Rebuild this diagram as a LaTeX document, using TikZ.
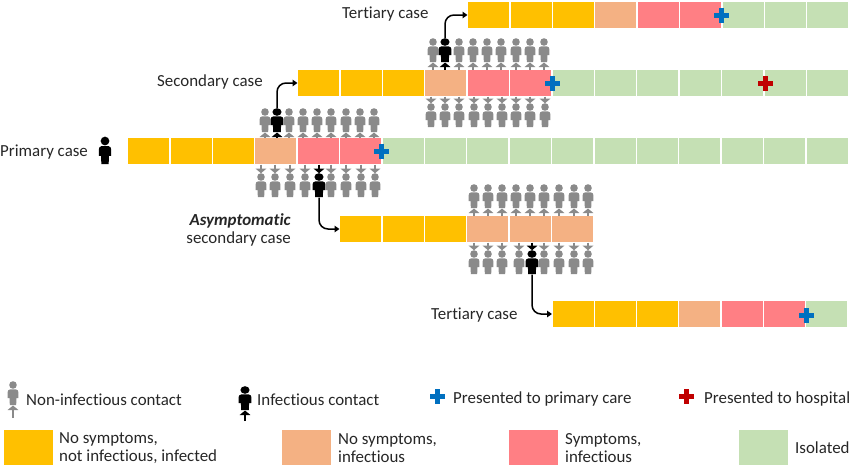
\documentclass[tikz,border=0pt]{standalone}
\usepackage{fontspec}
\setmainfont{Carlito}[Ligatures=NoCommon]
\usetikzlibrary{arrows.meta}
\definecolor{yellowc}{HTML}{FFC000}
\definecolor{peachc}{HTML}{F4B183}
\definecolor{redc}{HTML}{FF7F84}
\definecolor{greenc}{HTML}{C5E0B4}
\definecolor{bluex}{HTML}{0070C0}
\definecolor{redx}{HTML}{C00000}
\definecolor{greyc}{HTML}{8A8A8A}
\definecolor{textc}{HTML}{262626}
\tikzset{
  man/.pic={
    \fill (0,0) circle (3.8);
    \fill (-3,4.4) -- (3,4.4) to[out=0,in=90] (5.4,7.5) -- (5.4,13) -- (3.4,13) -- (3.2,20) -- (-3.2,20) -- (-3.4,13) -- (-5.4,13) -- (-5.4,7.5) to[out=90,in=180] cycle;
    \coordinate (-top) at (0,-3.8);
    \coordinate (-foot) at (0,20.5);
  },
  plus/.pic={
    \fill (-7.5,-2.5) rectangle (7.5,2.5);
    \fill (-2.5,-7.5) rectangle (2.5,7.5);
  }
}
\begin{document}
\begin{tikzpicture}[x=1pt,y=-1pt]
     \tikzstyle{casecell}=[draw=white, line width=1.2pt, outer sep=0pt, minimum width=42.35pt, minimum height=27pt, inner sep=0pt, anchor=west]
     \tikzstyle{legendbox}=[minimum width=49pt, minimum height=35pt, inner sep=0pt, anchor=west]
     \tikzstyle{label}=[font=\fontsize{16.9}{18}\selectfont, text=textc, inner sep=0pt, align=left]
     \tikzstyle{hit}=[line width=1.5pt, -{Triangle[width=10.5pt,length=4.5pt]}]
     \tikzstyle{onward}=[line width=1.5pt, rounded corners=9pt, -{Triangle[width=6.5pt,length=5pt]}]
     \tikzstyle{quiet}=[color=greyc]
     \tikzstyle{sick}=[color=black, xscale=1.2]
     \useasboundingbox (0,0) rectangle (850,466);
     % bars
     \foreach \col [count=\i] in {yellowc,yellowc,yellowc,peachc,redc,redc,greenc,greenc,greenc,greenc,greenc,greenc,greenc,greenc,greenc,greenc,greenc}
       \node[casecell,fill=\col] (p\i) at (127.5+42.4*\i-42.4,151) {};
     \foreach \col [count=\i] in {yellowc,yellowc,yellowc,peachc,redc,redc,greenc,greenc,greenc,greenc,greenc,greenc,greenc}
       \node[casecell,fill=\col] (s\i) at (297.5+42.4*\i-42.4,83) {};
     \foreach \col [count=\i] in {yellowc,yellowc,yellowc,peachc,redc,redc,greenc,greenc,greenc}
       \node[casecell,fill=\col] (t\i) at (467.5+42.4*\i-42.4,15) {};
     \foreach \col [count=\i] in {yellowc,yellowc,yellowc,peachc,peachc,peachc}
       \node[casecell,fill=\col] (a\i) at (339.5+42.4*\i-42.4,229) {};
     \foreach \col [count=\i] in {yellowc,yellowc,yellowc,peachc,redc,redc,greenc}
       \node[casecell,fill=\col] (b\i) at (552+42.25*\i-42.25,314) {};
     % contacts of the primary case
     \foreach \x/\c/\kind [count=\i] in {265/4/quiet,277/4/sick,289/4/quiet,303/5/quiet,317/5/quiet,331/5/quiet,346/6/quiet,360/6/quiet,374/6/quiet}{
       \pic[\kind] (pu\i) at (\x,112) {man};
       \draw[hit,\kind] (p\c.north -| pu\i-foot) -- (pu\i-foot);
     }
     \foreach \x/\c/\kind [count=\i] in {261/4/quiet,275/4/quiet,290/4/quiet,305/5/quiet,319/5/sick,331/5/quiet,346/6/quiet,361/6/quiet,375/6/quiet}{
       \pic[\kind] (pd\i) at (\x,177) {man};
       \draw[hit,\kind] (p\c.south -| pd\i-top) -- (pd\i-top);
     }
     % contacts of the secondary case
     \foreach \x/\c/\kind [count=\i] in {433/4/quiet,445/4/sick,459/4/quiet,473/5/quiet,487/5/quiet,501/5/quiet,516/6/quiet,530/6/quiet,544/6/quiet}{
       \pic[\kind] (su\i) at (\x,42) {man};
       \draw[hit,\kind] (s\c.north -| su\i-foot) -- (su\i-foot);
     }
     \foreach \x/\c/\kind [count=\i] in {431/4/quiet,445/4/quiet,459/4/quiet,474/5/quiet,488/5/quiet,502/5/quiet,516/6/quiet,530/6/quiet,545/6/quiet}{
       \pic[\kind] (sd\i) at (\x,107) {man};
       \draw[hit,\kind] (s\c.south -| sd\i-top) -- (sd\i-top);
     }
     % contacts of the asymptomatic case
     \foreach \x/\c/\kind [count=\i] in {474/4/quiet,488/4/quiet,502/4/quiet,516/5/quiet,530/5/quiet,544/5/quiet,559/6/quiet,574/6/quiet,588/6/quiet}{
       \pic[\kind] (au\i) at (\x,188) {man};
       \draw[hit,\kind] (a\c.north -| au\i-foot) -- (au\i-foot);
     }
     \foreach \x/\c/\kind [count=\i] in {474/4/quiet,488/4/quiet,502/4/quiet,519/5/quiet,532/5/sick,544/5/quiet,559/6/quiet,574/6/quiet,588/6/quiet}{
       \pic[\kind] (ad\i) at (\x,254) {man};
       \draw[hit,\kind] (a\c.south -| ad\i-top) -- (ad\i-top);
     }
     % onward transmission
     \draw[onward] (pu2-top) |- (s1.west);
     \draw[onward] (su2-top) |- (t1.west);
     \draw[onward] (pd5-foot) |- (a1.west);
     \draw[onward] (ad5-foot) |- (b1.west);
     % crosses
     \pic[color=bluex] at (381,151) {plus};
     \pic[color=bluex] at (552,83) {plus};
     \pic[color=bluex] at (721,15) {plus};
     \pic[color=bluex] at (806,315) {plus};
     \pic[color=redx] at (765,83) {plus};
     % case labels
     \node[label,anchor=west] (tertA) at (342,14) {Tertiary case};
     \node[label,anchor=west] (secA) at (157,82) {Secondary case};
     \node[label,anchor=west] (prim) at (0,152) {Primary case};
     \pic[color=black,scale=1.15] at (105,141) {man};
     \node[label,anchor=east,align=right] (asym) at (291,229.7) {\textbf{\textit{Asymptomatic}}\\secondary case};
     \node[label,anchor=west] (tertB) at (431,315) {Tertiary case};
     % legend
     \pic[quiet] (lega) at (13,385) {man};
     \coordinate (legaend) at (13,418);
     \draw[hit,quiet] (legaend) -- (lega-foot);
     \node[label,anchor=west] (legatext) at (26,400) {Non-infectious contact};
     \pic[sick] (legb) at (245,390) {man};
     \coordinate (legbend) at (245,421);
     \draw[hit,sick] (legbend) -- (legb-foot);
     \node[label,anchor=west] (legbtext) at (257,400) {Infectious contact};
     \pic[color=bluex] at (437,396) {plus};
     \node[label,anchor=west] (legctext) at (453,399) {Presented to primary care};
     \pic[color=redx] at (686,396) {plus};
     \node[label,anchor=west] (legdtext) at (704,399) {Presented to hospital};
     \node[legendbox,fill=yellowc] (boxa) at (4,447) {};
     \node[label,anchor=west] at (59,447.7) (boxatext) {No symptoms,\\not infectious, infected};
     \node[legendbox,fill=peachc] (boxb) at (282,447) {};
     \node[label,anchor=west] at (338,447.7) (boxbtext) {No symptoms,\\infectious};
     \node[legendbox,fill=redc] (boxc) at (509,447) {};
     \node[label,anchor=west] at (565,447.7) (boxctext) {Symptoms,\\infectious};
     \node[legendbox,fill=greenc] (boxd) at (739,447) {};
     \node[label,anchor=west] at (795,447.7) (boxdtext) {Isolated};
\end{tikzpicture}
\end{document}
